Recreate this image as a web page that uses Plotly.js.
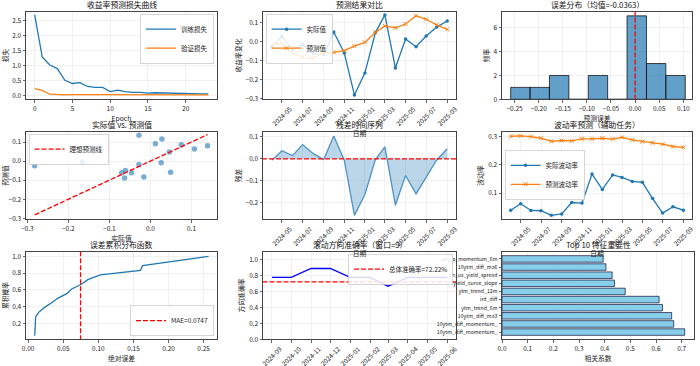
<!DOCTYPE html>
<html><head><meta charset="utf-8">
<script src="https://cdn.plot.ly/plotly-3.0.1.min.js"></script>
<style>html,body{margin:0;padding:0;background:#fff}#chart{width:700px;height:366px}</style>
</head><body><div id="chart"></div>
<script>
// ---------------- DATA ----------------
const epochs = [0,1,2,3,4,5,6,7,8,9,10,11,12,13,14,15,16,17,18,19,20,21,22,23];
const trainLoss = [2.70,1.29,1.02,0.90,0.51,0.40,0.43,0.30,0.27,0.27,0.13,0.18,0.13,0.10,0.10,0.08,0.09,0.08,0.07,0.08,0.05,0.05,0.05,0.05];
const valLoss = [0.23,0.17,0.04,0.02,0.02,0.03,0.04,0.03,0.03,0.03,0.02,0.02,0.02,0.02,0.02,0.02,0.02,0.02,0.02,0.02,0.02,0.02,0.02,0.02];

const months = ['2024-04-01','2024-05-01','2024-06-01','2024-07-01','2024-08-01','2024-09-01','2024-10-01','2024-11-01','2024-12-01',
                '2025-01-01','2025-02-01','2025-03-01','2025-04-01','2025-05-01','2025-06-01','2025-07-01','2025-08-01','2025-09-01'];
const actual    = [-0.028,0.026,-0.046,-0.016,-0.063,-0.070,0.049,-0.061,-0.282,-0.166,0.046,0.139,-0.140,0.012,-0.028,0.028,0.075,0.107];
const predicted = [-0.018,-0.009,-0.061,-0.084,-0.088,-0.061,-0.058,-0.049,-0.025,-0.005,0.047,0.081,0.071,0.091,0.135,0.116,0.086,0.063];
const residuals = [-0.006,0.037,0.015,0.065,0.025,-0.003,0.104,-0.006,-0.258,-0.163,-0.003,0.055,-0.212,-0.076,-0.160,-0.085,-0.005,0.046];

const binEdges = [-0.258,-0.2178,-0.1776,-0.1373,-0.0971,-0.0569,-0.0167,0.0236,0.0638,0.104];
const binCounts = [1,1,2,0,2,0,7,3,2];
const errRef = 0;
const meanErrLabel = '-0.0363';

const volActual = [0.040,0.063,0.039,0.038,0.022,0.027,0.067,0.065,0.167,0.113,0.164,0.155,0.141,0.138,0.081,0.030,0.052,0.040];
const volPred   = [0.300,0.301,0.299,0.293,0.282,0.285,0.284,0.291,0.291,0.293,0.290,0.296,0.287,0.281,0.277,0.272,0.264,0.261];

const absErrSorted = [0.0094,0.0096,0.0098,0.0101,0.0108,0.0150,0.0230,0.0330,0.0420,0.0550,0.0620,0.0760,0.0850,0.1030,0.1600,0.1630,0.2120,0.2570];
const cdfProb = [0.056,0.111,0.167,0.222,0.278,0.333,0.389,0.444,0.500,0.556,0.611,0.667,0.722,0.778,0.833,0.889,0.944,1.000];
const mae = 0.0747;

const rollMonths = ['2024-09-01','2024-10-01','2024-11-01','2024-12-01','2025-01-01','2025-02-01','2025-03-01','2025-04-01','2025-05-01','2025-06-01'];
const rollAcc = [0.778,0.778,0.889,0.889,0.778,0.778,0.667,0.778,0.778,0.778];
const overallAcc = 0.7222;

const features = ['10ytm_diff_momentum_','10ytm_diff_momentum_','10ytm_diff_ma3','ytm_trend_6m','ird_diff','ytm_trend_12m','yield_curve_slope','cn_us_yield_spread','10ytm_diff_ma6','cni_p_momentum_6m'];
const importance = [0.712,0.669,0.661,0.625,0.612,0.480,0.438,0.429,0.405,0.394];

// ---------------- STYLE / LAYOUT ----------------
const W=700,H=366;
const BLUE='#1f77b4', ORANGE='#ff7f0e', RED='#ff0000';
const FONT='"Noto Sans CJK SC", "DejaVu Sans", sans-serif';
const colPx=[[26,217],[263,456],[502,692]];
const rowPx=[[11.7,99.3],[131.7,219.3],[251.7,339.3]];
const dx=(c)=>[colPx[c][0]/W,colPx[c][1]/W];
const dy=(r)=>[1-rowPx[r][1]/H,1-rowPx[r][0]/H];
const dash='5px,2px';

function axis(extra){
  return Object.assign({showline:true,mirror:true,linecolor:'#444',linewidth:1,ticks:'outside',ticklen:2.5,tickwidth:0.8,tickcolor:'#444',
    showgrid:true,gridcolor:'#e8e8e8',gridwidth:0.6,zeroline:false,tickfont:{size:6.5,color:'#222',family:FONT}},extra);
}
function ttl(t,st){return {text:t,font:{size:6.8,color:'#222',family:FONT},standoff:st===undefined?3:st};}

const traces=[];
// P1
traces.push({x:epochs,y:trainLoss,type:'scatter',mode:'lines',name:'训练损失',line:{color:BLUE,width:1.3},xaxis:'x',yaxis:'y',legend:'legend'});
traces.push({x:epochs,y:valLoss,type:'scatter',mode:'lines',name:'验证损失',line:{color:ORANGE,width:1.3},xaxis:'x',yaxis:'y',legend:'legend'});
// P2
traces.push({x:months,y:actual,type:'scatter',mode:'lines+markers',name:'实际值',line:{color:BLUE,width:1.3},marker:{size:3.5,color:BLUE},xaxis:'x2',yaxis:'y2',legend:'legend2'});
traces.push({x:months,y:predicted,type:'scatter',mode:'lines+markers',name:'预测值',line:{color:ORANGE,width:1.3},marker:{symbol:'x-thin',size:4,line:{width:1,color:ORANGE}},xaxis:'x2',yaxis:'y2',legend:'legend2'});
// P3
const centers=binCounts.map((_,i)=>(binEdges[i]+binEdges[i+1])/2);
const widths=binCounts.map((_,i)=>binEdges[i+1]-binEdges[i]);
traces.push({x:centers,y:binCounts,width:widths,type:'bar',marker:{color:'rgba(31,119,180,0.7)',line:{color:'rgba(0,0,0,0.8)',width:0.9}},xaxis:'x3',yaxis:'y3',showlegend:false});
traces.push({x:[errRef,errRef],y:[-10,100],type:'scatter',mode:'lines',line:{color:RED,width:1.3,dash:dash},xaxis:'x3',yaxis:'y3',showlegend:false});
// P4
traces.push({x:actual,y:predicted,type:'scatter',mode:'markers',marker:{size:5.5,color:'rgba(31,119,180,0.6)'},xaxis:'x4',yaxis:'y4',showlegend:false});
const lo=Math.min(Math.min(...actual),Math.min(...predicted)), hi=Math.max(Math.max(...actual),Math.max(...predicted));
traces.push({x:[lo,hi],y:[lo,hi],type:'scatter',mode:'lines',name:'理想预测线',line:{color:RED,width:1.3,dash:dash},xaxis:'x4',yaxis:'y4',legend:'legend3'});
// P5
traces.push({x:months,y:residuals,type:'scatter',mode:'lines',fill:'tozeroy',fillcolor:'rgba(31,119,180,0.3)',line:{color:'rgba(31,119,180,0.75)',width:1.3},xaxis:'x5',yaxis:'y5',showlegend:false});
traces.push({x:['2024-01-01','2025-12-31'],y:[0,0],type:'scatter',mode:'lines',line:{color:RED,width:1.3,dash:dash},xaxis:'x5',yaxis:'y5',showlegend:false});
// P6
traces.push({x:months,y:volActual,type:'scatter',mode:'lines+markers',name:'实际波动率',line:{color:BLUE,width:1.3},marker:{size:3.5,color:BLUE},xaxis:'x6',yaxis:'y6',legend:'legend4'});
traces.push({x:months,y:volPred,type:'scatter',mode:'lines+markers',name:'预测波动率',line:{color:ORANGE,width:1.3},marker:{symbol:'x-thin',size:4,line:{width:1,color:ORANGE}},xaxis:'x6',yaxis:'y6',legend:'legend4'});
// P7
traces.push({x:absErrSorted,y:cdfProb,type:'scatter',mode:'lines',line:{color:BLUE,width:1.3},xaxis:'x7',yaxis:'y7',showlegend:false});
traces.push({x:[mae,mae],y:[-1,2],type:'scatter',mode:'lines',name:'MAE='+mae.toFixed(4),line:{color:RED,width:1.3,dash:dash},xaxis:'x7',yaxis:'y7',legend:'legend5'});
// P8
traces.push({x:rollMonths,y:rollAcc,type:'scatter',mode:'lines',line:{color:'#0000ff',width:1.3},xaxis:'x8',yaxis:'y8',showlegend:false});
traces.push({x:['2024-01-01','2025-12-31'],y:[overallAcc,overallAcc],type:'scatter',mode:'lines',name:'总体准确率='+(overallAcc*100).toFixed(2)+'%',line:{color:RED,width:1.3,dash:dash},xaxis:'x8',yaxis:'y8',legend:'legend6'});
// P9
traces.push({x:importance,y:features.map((_,i)=>i),type:'bar',orientation:'h',width:0.8,marker:{color:'#87ceeb',line:{color:'rgba(20,20,60,0.8)',width:0.9}},xaxis:'x9',yaxis:'y9',showlegend:false});

const dateAx = {type:'date',tickformat:'%Y-%m',tickangle:-45,ticklabelshift:8};
const layout={
  width:W,height:H,margin:{l:0,r:0,t:0,b:0},paper_bgcolor:'#fff',plot_bgcolor:'#fff',
  font:{family:FONT,size:6.5,color:'#222'},showlegend:true,bargap:0,
  xaxis: axis({domain:dx(0),anchor:'y',range:[-1.15,24.15],dtick:5,tick0:0,title:ttl('Epoch')}),
  yaxis: axis({domain:dy(0),anchor:'x',range:[-0.13,2.81],dtick:0.5,tickformat:'.1f',title:ttl('损失')}),
  xaxis2: axis(Object.assign({domain:dx(1),anchor:'y2',range:['2024-03-06','2025-09-27'],tick0:'2024-05-01',dtick:'M2',title:ttl('日期',1)},dateAx)),
  yaxis2: axis({domain:dy(0),anchor:'x2',range:[-0.305,0.156],dtick:0.1,tickformat:'.1f',title:ttl('收益率变化')}),
  xaxis3: axis({domain:dx(2),anchor:'y3',range:[-0.276,0.118],dtick:0.05,tick0:0,tickformat:'.2f',title:ttl('预测误差')}),
  yaxis3: axis({domain:dy(0),anchor:'x3',range:[0,7.35],dtick:2,title:ttl('频率')}),
  xaxis4: axis({domain:dx(0),anchor:'y4',range:[-0.303,0.162],dtick:0.1,tickformat:'.1f',title:ttl('实际值')}),
  yaxis4: axis({domain:dy(1),anchor:'x4',range:[-0.305,0.154],dtick:0.1,tickformat:'.1f',title:ttl('预测值')}),
  xaxis5: axis(Object.assign({domain:dx(1),anchor:'y5',range:['2024-03-06','2025-09-27'],tick0:'2024-05-01',dtick:'M2',title:ttl('日期',1)},dateAx)),
  yaxis5: axis({domain:dy(1),anchor:'x5',range:[-0.276,0.124],dtick:0.1,tickformat:'.1f',title:ttl('残差')}),
  xaxis6: axis(Object.assign({domain:dx(2),anchor:'y6',range:['2024-03-06','2025-09-27'],tick0:'2024-05-01',dtick:'M2',title:ttl('日期',1)},dateAx)),
  yaxis6: axis({domain:dy(1),anchor:'x6',range:[0.008,0.316],dtick:0.1,tick0:0,tickformat:'.1f',title:ttl('波动率')}),
  xaxis7: axis({domain:dx(0),anchor:'y7',range:[-0.003,0.269],dtick:0.05,tick0:0,tickformat:'.2f',title:ttl('绝对误差')}),
  yaxis7: axis({domain:dy(2),anchor:'x7',range:[0.012,1.055],dtick:0.2,tick0:0,tickformat:'.1f',title:ttl('累积概率')}),
  xaxis8: axis(Object.assign({domain:dx(1),anchor:'y8',range:['2024-08-18','2025-06-15'],tick0:'2024-09-01',dtick:'M1'},dateAx)),
  yaxis8: axis({domain:dy(2),anchor:'x8',range:[0,1.1],dtick:0.2,tickformat:'.1f',title:ttl('方向准确率')}),
  xaxis9: axis({domain:[502/W,694/W],anchor:'y9',range:[0,0.748],dtick:0.1,tickformat:'.1f',title:ttl('相关系数')}),
  yaxis9: axis({domain:dy(2),anchor:'x9',range:[-0.89,9.89],tickvals:features.map((_,i)=>i),ticktext:features,showgrid:false,tickfont:{size:5.2,color:'#222',family:FONT}}),
  annotations:[],
};
const legBase={bgcolor:'rgba(255,255,255,0.85)',bordercolor:'#cccccc',borderwidth:0.8,font:{size:6.5,family:FONT,color:'#222'},itemwidth:30,tracegroupgap:0};
layout.legend =Object.assign({x:dx(0)[1]-0.004,y:dy(0)[1]-0.006,xanchor:'right',yanchor:'top'},legBase);
layout.legend2=Object.assign({x:dx(1)[0]+0.004,y:dy(0)[1]-0.006,xanchor:'left',yanchor:'top'},legBase);
layout.legend3=Object.assign({x:dx(0)[0]+0.004,y:dy(1)[1]-0.006,xanchor:'left',yanchor:'top'},legBase);
layout.legend4=Object.assign({x:dx(2)[0]+0.004,y:1-175/H,xanchor:'left',yanchor:'middle'},legBase);
layout.legend5=Object.assign({x:dx(0)[1]-0.004,y:dy(2)[0]+0.008,xanchor:'right',yanchor:'bottom'},legBase);
layout.legend6=Object.assign({x:dx(1)[1]-0.004,y:dy(2)[1]-0.006,xanchor:'right',yanchor:'top'},legBase);

const titles=['收益率预测损失曲线','预测结果对比','误差分布（均值='+meanErrLabel+'）','实际值 vs. 预测值','残差时间序列','波动率预测（辅助任务）','误差累积分布函数','滚动方向准确率（窗口=9）','Top 10 特征重要性'];
titles.forEach((t,i)=>{
  const k=i===0?'':String(i+1);
  layout.annotations.push({text:t,xref:'x'+k+' domain',yref:'y'+k+' domain',x:0.5,y:1,xanchor:'center',yanchor:'bottom',yshift:0,showarrow:false,font:{size:7.8,color:'#111',family:FONT}});
});

Plotly.newPlot('chart',traces,layout,{displayModeBar:false,staticPlot:true});
</script></body></html>
